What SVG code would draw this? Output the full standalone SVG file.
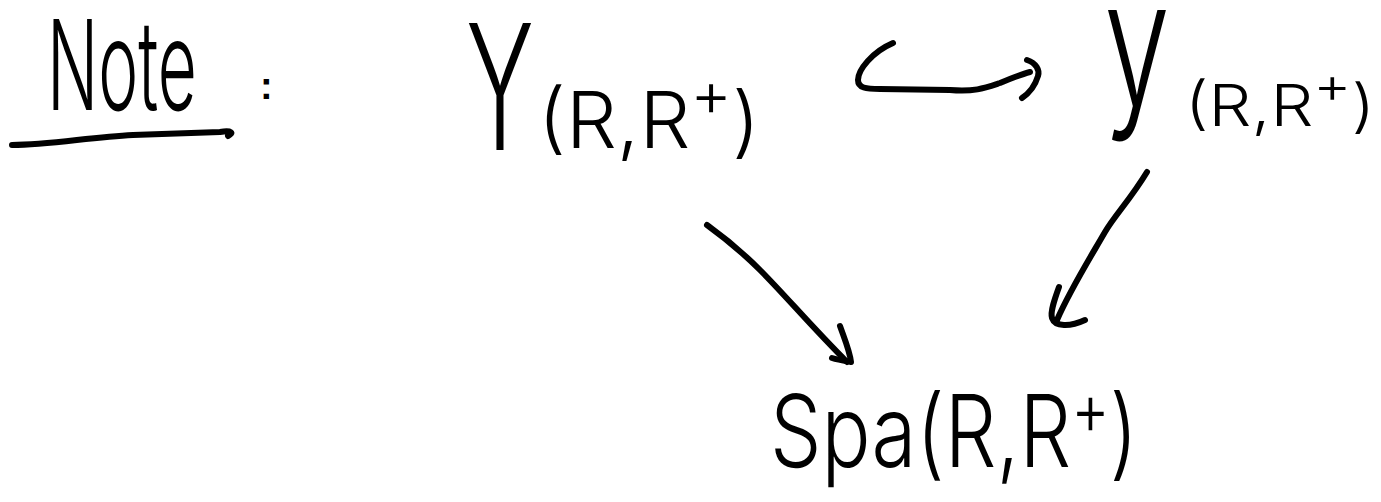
<svg xmlns="http://www.w3.org/2000/svg" width="1381" height="502" viewBox="0 0 1381 502">
<style>
  text { font-family: "Inter", "Roboto", "Liberation Sans", sans-serif; font-weight: 300; fill: #000; }
  .ink { fill: none; stroke: #000; stroke-width: 6; stroke-linecap: round; stroke-linejoin: round; }
</style>
<rect width="1381" height="502" fill="#fff"/>
<g id="note">
  <text x="47" y="110" font-size="125" textLength="150" lengthAdjust="spacingAndGlyphs">Note</text>
  <path class="ink" d="M12,145 C50,145 90,137 133,135 L220,132 C232,130 234,133 228,136"/>
  <text x="260" y="99" font-size="38" font-weight="700" style="font-family:'Liberation Sans', sans-serif; font-weight:700">:</text>
</g>
<g id="node-Y">
  <text x="466" y="150" font-size="175" textLength="68" lengthAdjust="spacingAndGlyphs">Y</text>
  <text x="538" y="148" font-size="78" textLength="222" lengthAdjust="spacingAndGlyphs">(R,R<tspan dy="-32" font-size="62">+</tspan><tspan dy="32">)</tspan></text>
</g>
<g id="node-y">
  <text x="1104" y="105" font-size="174" textLength="66" lengthAdjust="spacingAndGlyphs">y</text>
  <text x="1185" y="126" font-size="58" textLength="190" lengthAdjust="spacingAndGlyphs">(R,R<tspan dy="-23" font-size="50">+</tspan><tspan dy="23">)</tspan></text>
</g>
<g id="node-Spa">
  <text x="770" y="467" font-size="100" textLength="368" lengthAdjust="spacingAndGlyphs">Spa(R,R<tspan dy="-33" font-size="72">+</tspan><tspan dy="33">)</tspan></text>
</g>
<g id="connectors">
  <path class="ink" d="M893,43 C872,52 858,70 858,80 C858,88 866,89 880,89 L950,90 C975,92 985,88 1000,83 C1012,78 1022,74 1030,72"/>
  <path class="ink" d="M1027,60 C1036,63 1040,70 1038,76 C1035,86 1028,94 1022,98"/>
  <path class="ink" d="M1147,172 C1130,200 1115,215 1105,232 C1090,258 1070,290 1057,320"/>
  <path class="ink" d="M1059,287 C1055,298 1050,312 1052,318 C1055,327 1070,327 1085,320"/>
  <path class="ink" d="M707,225 C725,238 745,255 760,270 C785,295 810,325 847,362"/>
  <path class="ink" d="M840,326 C845,340 850,352 851,362 C845,361 838,360 832,358"/>
</g>
</svg>
